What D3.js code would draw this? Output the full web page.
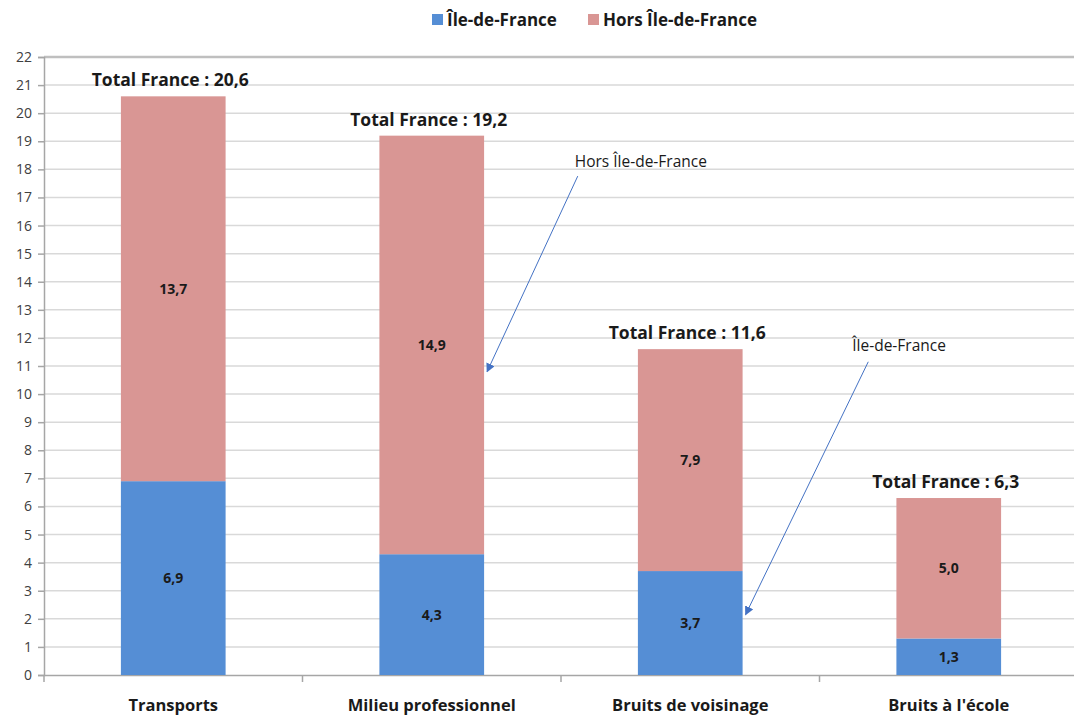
<!DOCTYPE html>
<html>
<head>
<meta charset="utf-8">
<script src="https://cdn.jsdelivr.net/npm/d3@7"></script>
<style>
  body { margin: 0; background: #fff; overflow: hidden; }
  text { font-family: "Open Sans", Lato, sans-serif; }
</style>
</head>
<body>
<div id="chart"></div>
<script>
// ---- data ----
const categories = ["Transports", "Milieu professionnel", "Bruits de voisinage", "Bruits à l'école"];
const idf = [6.9, 4.3, 3.7, 1.3];
const horsIdf = [13.7, 14.9, 7.9, 5.0];
const totals = [20.6, 19.2, 11.6, 6.3];
const yTicks = d3.range(0, 23);
const seriesNames = ["Île-de-France", "Hors Île-de-France"];

const svgWidth = 1074;
const svgHeight = 715;
const margin = { top: 57, right: -4, bottom: 40, left: 44 };
const width = svgWidth - margin.left - margin.right;
const height = svgHeight - margin.top - margin.bottom;

const colors = { idf: "#558ED5", hors: "#D99694" };

const svg = d3.select("#chart")
  .append("svg")
  .attr("width", svgWidth)
  .attr("height", svgHeight);

const g = svg.append("g")
  .attr("transform", `translate(${margin.left},${margin.top})`);

const x = d3.scaleBand().domain(categories).range([0, width]);
const y = d3.scaleLinear().domain([0, 22]).range([height, 0]);
const barW = x.bandwidth() * 0.405;
const cx = c => x(c) + x.bandwidth() / 2;

// grille
g.selectAll(".grid")
  .data(yTicks.slice(1))
  .enter().append("line")
  .attr("x1", 0).attr("x2", width)
  .attr("y1", d => y(d)).attr("y2", d => y(d))
  .attr("stroke", d => d === 22 ? "#bfbfbf" : "#d9d9d9")
  .attr("stroke-width", d => d === 22 ? 2.5 : 1.5);

// axe Y
const yAxis = g.append("g")
  .call(d3.axisLeft(y).tickValues(yTicks).tickSize(6).tickPadding(6).tickFormat(d => d));
yAxis.select(".domain").attr("stroke", "#a6a6a6").attr("stroke-width", 1.5);
yAxis.selectAll(".tick line").attr("stroke", "#a6a6a6").attr("stroke-width", 1.5);
yAxis.selectAll("text").attr("font-size", 14).attr("fill", "#404040");

// axe X
const xAxis = g.append("g")
  .attr("transform", `translate(0,${height})`)
  .call(d3.axisBottom(x).tickSize(0).tickFormat(""));
xAxis.select(".domain").attr("stroke", "#a6a6a6").attr("stroke-width", 1.5);
g.selectAll(".xtick")
  .data(categories)
  .enter().append("line")
  .attr("x1", d => x(d)).attr("x2", d => x(d))
  .attr("y1", height).attr("y2", height + 7)
  .attr("stroke", "#a6a6a6").attr("stroke-width", 1.5);

g.selectAll(".cat")
  .data(categories)
  .enter().append("text")
  .attr("x", d => cx(d))
  .attr("y", height + 36)
  .attr("text-anchor", "middle")
  .attr("font-size", 16.5).attr("font-weight", "bold").attr("fill", "#1a1a1a")
  .text(d => d);

// barres
g.selectAll(".bar-idf")
  .data(categories)
  .enter().append("rect")
  .attr("x", d => cx(d) - barW / 2)
  .attr("width", barW)
  .attr("y", (d, i) => y(idf[i]))
  .attr("height", (d, i) => y(0) - y(idf[i]))
  .attr("fill", colors.idf);

g.selectAll(".bar-hors")
  .data(categories)
  .enter().append("rect")
  .attr("x", d => cx(d) - barW / 2)
  .attr("width", barW)
  .attr("y", (d, i) => y(idf[i] + horsIdf[i]))
  .attr("height", (d, i) => y(idf[i]) - y(idf[i] + horsIdf[i]))
  .attr("fill", colors.hors);

const fmt = v => v.toFixed(1).replace(".", ",");

// étiquettes de valeurs
g.selectAll(".lab-idf")
  .data(categories)
  .enter().append("text")
  .attr("x", d => cx(d))
  .attr("y", (d, i) => y(idf[i] / 2) + 5)
  .attr("text-anchor", "middle")
  .attr("font-size", 14).attr("font-weight", "bold").attr("fill", "#1a1a1a")
  .text((d, i) => fmt(idf[i]));

g.selectAll(".lab-hors")
  .data(categories)
  .enter().append("text")
  .attr("x", d => cx(d))
  .attr("y", (d, i) => y(idf[i] + horsIdf[i] / 2) + 5)
  .attr("text-anchor", "middle")
  .attr("font-size", 14).attr("font-weight", "bold").attr("fill", "#1a1a1a")
  .text((d, i) => fmt(horsIdf[i]));

g.selectAll(".lab-total")
  .data(categories)
  .enter().append("text")
  .attr("x", d => cx(d) - 3)
  .attr("y", (d, i) => y(totals[i]) - 10)
  .attr("text-anchor", "middle")
  .attr("font-size", 17.5).attr("font-weight", "bold").attr("fill", "#1a1a1a")
  .text((d, i) => "Total France : " + fmt(totals[i]));

// annotations avec flèches
svg.append("defs").append("marker")
  .attr("id", "arrow")
  .attr("viewBox", "0 0 10 10")
  .attr("refX", 9).attr("refY", 5)
  .attr("markerWidth", 9).attr("markerHeight", 9)
  .attr("orient", "auto")
  .append("path")
  .attr("d", "M0,0 L10,5 L0,10 Z")
  .attr("fill", "#4472C4");

const notes = [
  { label: "Hors Île-de-France", cat: "Milieu professionnel", from: 17.76, to: 10.8, dxFrom: 146, textDx: 143, textY: 18.25 },
  { label: "Île-de-France", cat: "Bruits de voisinage", from: 11.15, to: 2.15, dxFrom: 178, textDx: 162, textY: 11.7 }
];

notes.forEach(n => {
  const right = cx(n.cat) + barW / 2;
  g.append("line")
    .attr("x1", cx(n.cat) + n.dxFrom)
    .attr("y1", y(n.from))
    .attr("x2", right + 3)
    .attr("y2", y(n.to))
    .attr("stroke", "#4472C4").attr("stroke-width", 1)
    .attr("marker-end", "url(#arrow)");
  g.append("text")
    .attr("x", cx(n.cat) + n.textDx)
    .attr("y", y(n.textY) + 5)
    .attr("font-size", 15.5).attr("fill", "#1a1a1a")
    .text(n.label);
});

// légende
const legend = svg.append("g").attr("transform", "translate(432,20)");
const legendX = [0, 156];
seriesNames.forEach((s, i) => {
  legend.append("rect")
    .attr("x", legendX[i]).attr("y", -6)
    .attr("width", 11).attr("height", 11)
    .attr("fill", i === 0 ? colors.idf : colors.hors);
  legend.append("text")
    .attr("x", legendX[i] + 15).attr("y", 6)
    .attr("font-size", 17).attr("font-weight", "bold").attr("fill", "#1a1a1a")
    .text(s);
});
</script>
</body>
</html>
